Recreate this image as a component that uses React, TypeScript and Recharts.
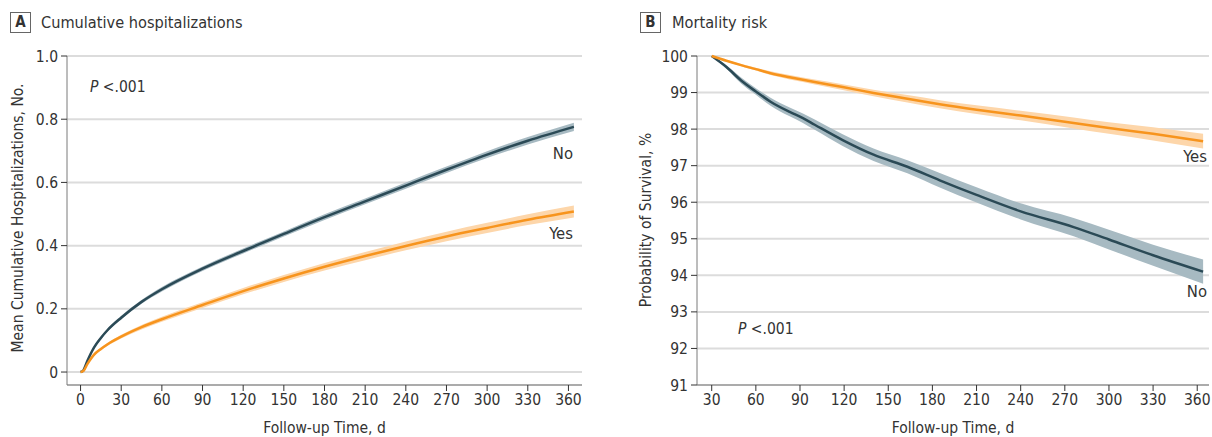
import React from "react";
import { ComposedChart, Line, Area, XAxis, YAxis, CartesianGrid } from "recharts";

// ---------- Panel A: cumulative hospitalizations ----------
const tA = [0, 2, 5, 10, 15, 20, 30, 45, 60, 90, 120, 150, 180, 210, 240, 270, 300, 330, 364];
const noA = [0, 0.005, 0.035, 0.078, 0.108, 0.133, 0.172, 0.222, 0.262, 0.327, 0.383, 0.437, 0.49, 0.54, 0.59, 0.64, 0.688, 0.732, 0.776];
const noALo = [0, 0.004, 0.032, 0.074, 0.103, 0.128, 0.166, 0.216, 0.255, 0.32, 0.375, 0.429, 0.481, 0.531, 0.58, 0.63, 0.677, 0.72, 0.763];
const noAHi = [0, 0.006, 0.038, 0.082, 0.113, 0.138, 0.178, 0.228, 0.269, 0.334, 0.391, 0.445, 0.499, 0.549, 0.6, 0.65, 0.699, 0.744, 0.789];
const yesA = [0, 0.003, 0.025, 0.055, 0.073, 0.088, 0.112, 0.142, 0.167, 0.212, 0.256, 0.296, 0.333, 0.367, 0.399, 0.429, 0.456, 0.482, 0.508];
const yesALo = [0, 0.002, 0.022, 0.051, 0.068, 0.083, 0.106, 0.135, 0.159, 0.203, 0.246, 0.285, 0.321, 0.354, 0.385, 0.414, 0.44, 0.465, 0.489];
const yesAHi = [0, 0.004, 0.028, 0.059, 0.078, 0.093, 0.118, 0.149, 0.175, 0.221, 0.266, 0.307, 0.345, 0.38, 0.413, 0.444, 0.472, 0.499, 0.527];
const xTicksA = [0, 30, 60, 90, 120, 150, 180, 210, 240, 270, 300, 330, 360];
const yTicksA = [0, 0.2, 0.4, 0.6, 0.8, 1.0];
const yTickLabelsA = ["0", "0.2", "0.4", "0.6", "0.8", "1.0"];

// ---------- Panel B: mortality risk ----------
const tB = [30, 40, 50, 60, 70, 83, 92, 100, 119, 140, 163, 185, 210, 240, 276, 300, 330, 364];
const noB = [100, 99.7, 99.33, 99.03, 98.75, 98.47, 98.3, 98.12, 97.7, 97.3, 96.97, 96.6, 96.2, 95.75, 95.32, 94.98, 94.55, 94.1];
const noBLo = [100, 99.65, 99.25, 98.94, 98.64, 98.35, 98.17, 97.98, 97.54, 97.13, 96.79, 96.4, 95.99, 95.53, 95.07, 94.71, 94.26, 93.77];
const noBHi = [100, 99.75, 99.41, 99.12, 98.86, 98.59, 98.43, 98.26, 97.86, 97.47, 97.15, 96.8, 96.41, 95.97, 95.57, 95.25, 94.84, 94.43];
const yesB = [100, 99.87, 99.75, 99.64, 99.53, 99.42, 99.35, 99.29, 99.15, 98.99, 98.83, 98.68, 98.53, 98.37, 98.17, 98.03, 97.87, 97.67];
const yesBLo = [100, 99.85, 99.72, 99.6, 99.48, 99.36, 99.29, 99.22, 99.07, 98.9, 98.73, 98.57, 98.41, 98.24, 98.02, 97.87, 97.69, 97.47];
const yesBHi = [100, 99.89, 99.78, 99.68, 99.58, 99.48, 99.41, 99.36, 99.23, 99.08, 98.93, 98.79, 98.65, 98.5, 98.32, 98.19, 98.05, 97.87];
const xTicksB = [30, 60, 90, 120, 150, 180, 210, 240, 270, 300, 330, 360];
const yTicksB = [91, 92, 93, 94, 95, 96, 97, 98, 99, 100];

const dataA = tA.map((t, i) => ({
  t,
  no: noA[i],
  noBand: [noALo[i], noAHi[i]],
  yes: yesA[i],
  yesBand: [yesALo[i], yesAHi[i]],
}));
const dataB = tB.map((t, i) => ({
  t,
  no: noB[i],
  noBand: [noBLo[i], noBHi[i]],
  yes: yesB[i],
  yesBand: [yesBLo[i], yesBHi[i]],
}));

const FONT = "'Liberation Sans Narrow', 'DejaVu Sans Condensed', 'Roboto', sans-serif";
const TEXT = "#333333";
const DARK = "#2b4a56";
const DARK_BAND = "#a7bac2";
const ORANGE = "#f7941d";
const ORANGE_BAND = "#fdd6aa";
const GRID = "#dcdcdc";
const AXIS = "#7a7a7a";

const tickStyle = { fill: TEXT, fontSize: 15.5, fontFamily: FONT };

const abs = (left: number, top: number, extra: React.CSSProperties = {}): React.CSSProperties => ({
  position: "absolute",
  left,
  top,
  whiteSpace: "nowrap",
  color: TEXT,
  fontFamily: FONT,
  ...extra,
});

function PanelTitle({ x, letter, title, textX }: { x: number; letter: string; title: string; textX: number }) {
  return (
    <>
      <div
        style={abs(x, 12, {
          width: 21,
          height: 21,
          border: "1px solid #666",
          boxSizing: "border-box",
          fontWeight: "bold",
          fontSize: 15,
          lineHeight: "19px",
          textAlign: "center",
        })}
      >
        {letter}
      </div>
      <div style={abs(textX, 12, { fontSize: 16.2, lineHeight: "22px" })}>{title}</div>
    </>
  );
}

export default function App() {
  return (
    <div
      style={{
        position: "fixed",
        left: 0,
        top: 0,
        width: 1212,
        height: 437,
        background: "#fff",
        overflow: "hidden",
        fontFamily: FONT,
      }}
    >
      {/* Panel A */}
      <div style={{ position: "absolute", left: 0, top: 0 }}>
        <ComposedChart width={600} height={437} data={dataA} margin={{ top: 56, right: 18, bottom: 0, left: 0 }}>
          <CartesianGrid vertical={false} stroke={GRID} strokeWidth={2} />
          <XAxis
            dataKey="t"
            type="number"
            domain={[-10, 370]}
            ticks={xTicksA}
            height={52}
            tick={tickStyle}
            tickSize={6}
            tickMargin={3}
            axisLine={{ stroke: AXIS }}
            tickLine={{ stroke: TEXT }}
          />
          <YAxis
            type="number"
            domain={[-0.041, 1.0]}
            ticks={yTicksA}
            width={67}
            tick={tickStyle}
            tickSize={6}
            tickMargin={3}
            tickFormatter={(v: number) => yTickLabelsA[yTicksA.indexOf(v)] ?? String(v)}
            axisLine={{ stroke: AXIS }}
            tickLine={{ stroke: TEXT }}
            allowDataOverflow
          />
          <Area type="monotone" dataKey="noBand" stroke="none" fill={DARK_BAND} fillOpacity={1} isAnimationActive={false} />
          <Area type="monotone" dataKey="yesBand" stroke="none" fill={ORANGE_BAND} fillOpacity={1} isAnimationActive={false} />
          <Line type="monotone" dataKey="no" stroke={DARK} strokeWidth={2.5} dot={false} isAnimationActive={false} />
          <Line type="monotone" dataKey="yes" stroke={ORANGE} strokeWidth={2.5} dot={false} isAnimationActive={false} />
        </ComposedChart>
      </div>

      {/* Panel B */}
      <div style={{ position: "absolute", left: 610, top: 0 }}>
        <ComposedChart width={602} height={437} data={dataB} margin={{ top: 56, right: 3, bottom: 0, left: 0 }}>
          <CartesianGrid vertical={false} stroke={GRID} strokeWidth={2} />
          <XAxis
            dataKey="t"
            type="number"
            domain={[20, 368]}
            ticks={xTicksB}
            height={52}
            tick={tickStyle}
            tickSize={6}
            tickMargin={3}
            axisLine={{ stroke: AXIS }}
            tickLine={{ stroke: TEXT }}
          />
          <YAxis
            type="number"
            domain={[91, 100]}
            ticks={yTicksB}
            width={87}
            tick={tickStyle}
            tickSize={6}
            tickMargin={3}
            axisLine={{ stroke: AXIS }}
            tickLine={{ stroke: TEXT }}
          />
          <Area type="monotone" dataKey="noBand" stroke="none" fill={DARK_BAND} fillOpacity={1} isAnimationActive={false} />
          <Area type="monotone" dataKey="yesBand" stroke="none" fill={ORANGE_BAND} fillOpacity={1} isAnimationActive={false} />
          <Line type="monotone" dataKey="no" stroke={DARK} strokeWidth={2.5} dot={false} isAnimationActive={false} />
          <Line type="monotone" dataKey="yes" stroke={ORANGE} strokeWidth={2.5} dot={false} isAnimationActive={false} />
        </ComposedChart>
      </div>

      {/* Titles */}
      <PanelTitle x={10} letter="A" title="Cumulative hospitalizations" textX={41} />
      <PanelTitle x={640} letter="B" title="Mortality risk" textX={672} />

      {/* Axis titles */}
      <div style={abs(67, 418, { width: 515, textAlign: "center", fontSize: 15.5, lineHeight: "20px" })}>Follow-up Time, d</div>
      <div style={abs(697, 418, { width: 512, textAlign: "center", fontSize: 15.5, lineHeight: "20px" })}>Follow-up Time, d</div>
      <div
        style={abs(18, 218, {
          fontSize: 15.5,
          lineHeight: "20px",
          transform: "translate(-50%, -50%) rotate(-90deg)",
        })}
      >
        Mean Cumulative Hospitalizations, No.
      </div>
      <div
        style={abs(646, 220, {
          fontSize: 15.5,
          lineHeight: "20px",
          transform: "translate(-50%, -50%) rotate(-90deg)",
        })}
      >
        Probability of Survival, %
      </div>

      {/* P values */}
      <div style={abs(90, 77, { fontSize: 15.5, lineHeight: "20px" })}>
        <i>P</i> &lt;.001
      </div>
      <div style={abs(738, 319, { fontSize: 15.5, lineHeight: "20px" })}>
        <i>P</i> &lt;.001
      </div>

      {/* Series labels */}
      <div style={abs(0, 144, { width: 573, textAlign: "right", fontSize: 16.5, lineHeight: "20px" })}>No</div>
      <div style={abs(0, 224, { width: 573, textAlign: "right", fontSize: 16.5, lineHeight: "20px" })}>Yes</div>
      <div style={abs(0, 147, { width: 1207, textAlign: "right", fontSize: 16.5, lineHeight: "20px" })}>Yes</div>
      <div style={abs(0, 282, { width: 1207, textAlign: "right", fontSize: 16.5, lineHeight: "20px" })}>No</div>
    </div>
  );
}
